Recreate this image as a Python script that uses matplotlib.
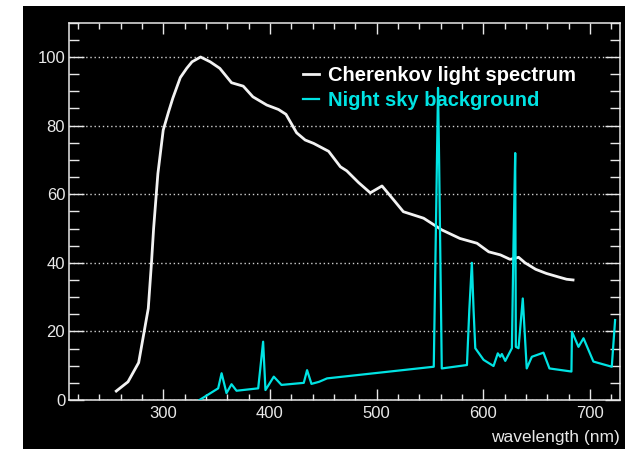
import matplotlib
matplotlib.use("Agg")
import matplotlib.pyplot as plt
from matplotlib.patches import Rectangle
from matplotlib.ticker import MultipleLocator

plt.rcParams["font.family"] = ["Liberation Sans", "DejaVu Sans"]

# Cherenkov light spectrum (relative, peak = 100)
cher_wl = [256, 267, 277, 286, 289, 291, 295, 300, 305, 309, 316, 322, 327, 335,
           344, 353, 364, 375, 384, 397, 408, 415, 425, 433, 441, 455, 466, 472,
           483, 494, 505, 516, 525, 544, 561, 578, 594, 605, 616, 625, 633, 639,
           649, 659, 670, 678, 684]
cher_val = [2.6, 5.3, 10.9, 26.7, 40, 50, 66, 78.7, 84, 88, 94, 96.7, 98.6, 100,
            98.6, 96.7, 92.5, 91.5, 88.4, 86, 84.7, 83.3, 77.9, 75.8, 74.8, 72.5, 68, 66.8,
            63.4, 60.4, 62.4, 58.3, 54.9, 53, 49.6, 47.1, 45.7, 43.2, 42.3, 41, 41.6, 40,
            38.1, 36.9, 35.9, 35.2, 35]

# Night sky background
nsb_wl = [334, 351.5, 354.7, 359.3, 364, 368.7, 389, 393.6, 395.8, 403.6, 410.8,
          431.7, 434.8, 438.9, 446, 453.5, 553.5, 556, 557.5, 558.5, 561, 584.6,
          586.8, 589.2, 590.8, 592.4, 600.2, 609.5, 613.5, 615.8, 617.3, 620.5,
          626.7, 628.2, 629.8, 630.4, 632.9, 636.9, 640.6, 645.4, 656.3, 661.9,
          682.5, 683, 689.1, 693.8, 703.1, 720.3, 723.4]
nsb_val = [0, 3.4, 7.8, 2, 4.6, 2.7, 3.4, 17, 2.9, 6.8, 4.4,
           5, 8.7, 4.7, 5.3, 6.3, 9.7, 60, 91, 70, 9.2, 10.2,
           26.2, 40, 26.2, 15.1, 11.7, 9.9, 13.6, 12.6, 13.4, 11.4,
           15.1, 45.2, 72, 15.5, 15.1, 29.6, 9.2, 12.6, 13.8, 9.2,
           8.3, 19.9, 15.5, 18, 11.2, 9.7, 23.3]

labels = ["Cherenkov light spectrum", "Night sky background"]
x_ticks = [300, 400, 500, 600, 700]
y_ticks = [0, 20, 40, 60, 80, 100]

W, H = 634, 449
fig = plt.figure(figsize=(W / 100, H / 100), dpi=100)
fig.patch.set_facecolor("white")
# black panel behind the plot
panel = Rectangle((23 / W, 0), (625 - 23) / W, (449 - 6) / H,
                  transform=fig.transFigure, facecolor="black",
                  edgecolor="none", zorder=-10)
fig.add_artist(panel)

ax = fig.add_axes([69.3 / W, 49 / H, (620 - 69.3) / W, (400 - 22.7) / H])
ax.set_facecolor("black")

cyan = "#00e3e3"
ax.plot(cher_wl, cher_val, color="#f2f2f2", lw=2.0, label=labels[0], zorder=3)
ax.plot(nsb_wl, nsb_val, color=cyan, lw=1.6, label=labels[1], zorder=3)

ax.set_xlim(212, 728)
ax.set_ylim(0, 110)
ax.set_xticks(x_ticks)
ax.set_yticks(y_ticks)
ax.xaxis.set_minor_locator(MultipleLocator(20))
ax.yaxis.set_minor_locator(MultipleLocator(5))

for s in ax.spines.values():
    s.set_color("#e8e8e8")
    s.set_linewidth(1.1)

ax.tick_params(which="both", direction="in", colors="#e8e8e8", top=True, right=True,
               labelsize=12)
ax.tick_params(axis="x", which="major", length=8, width=1, pad=4)
ax.tick_params(axis="x", which="minor", length=4, width=1)
ax.tick_params(axis="y", which="major", length=11, width=1, pad=3)
ax.tick_params(axis="y", which="minor", length=7, width=1)

ax.yaxis.grid(True, which="major", color="#d0d0d0", linestyle=(0, (1, 2)), lw=1)
ax.set_axisbelow(True)

leg = ax.legend(loc="upper left", bbox_to_anchor=(234 / 550.7, 1 - 43 / 377.3),
                frameon=False, handlelength=0.8, handletextpad=0.42,
                labelspacing=0.32, borderpad=0, borderaxespad=0,
                prop={"size": 14.5, "weight": "bold"})
for txt, c in zip(leg.get_texts(), ["white", cyan]):
    txt.set_color(c)

ax.text(1.0, -0.1, "wavelength (nm)", transform=ax.transAxes, ha="right",
        va="center", color="#e8e8e8", fontsize=12.5)

fig.savefig("out.png", dpi=100, facecolor=fig.get_facecolor())
